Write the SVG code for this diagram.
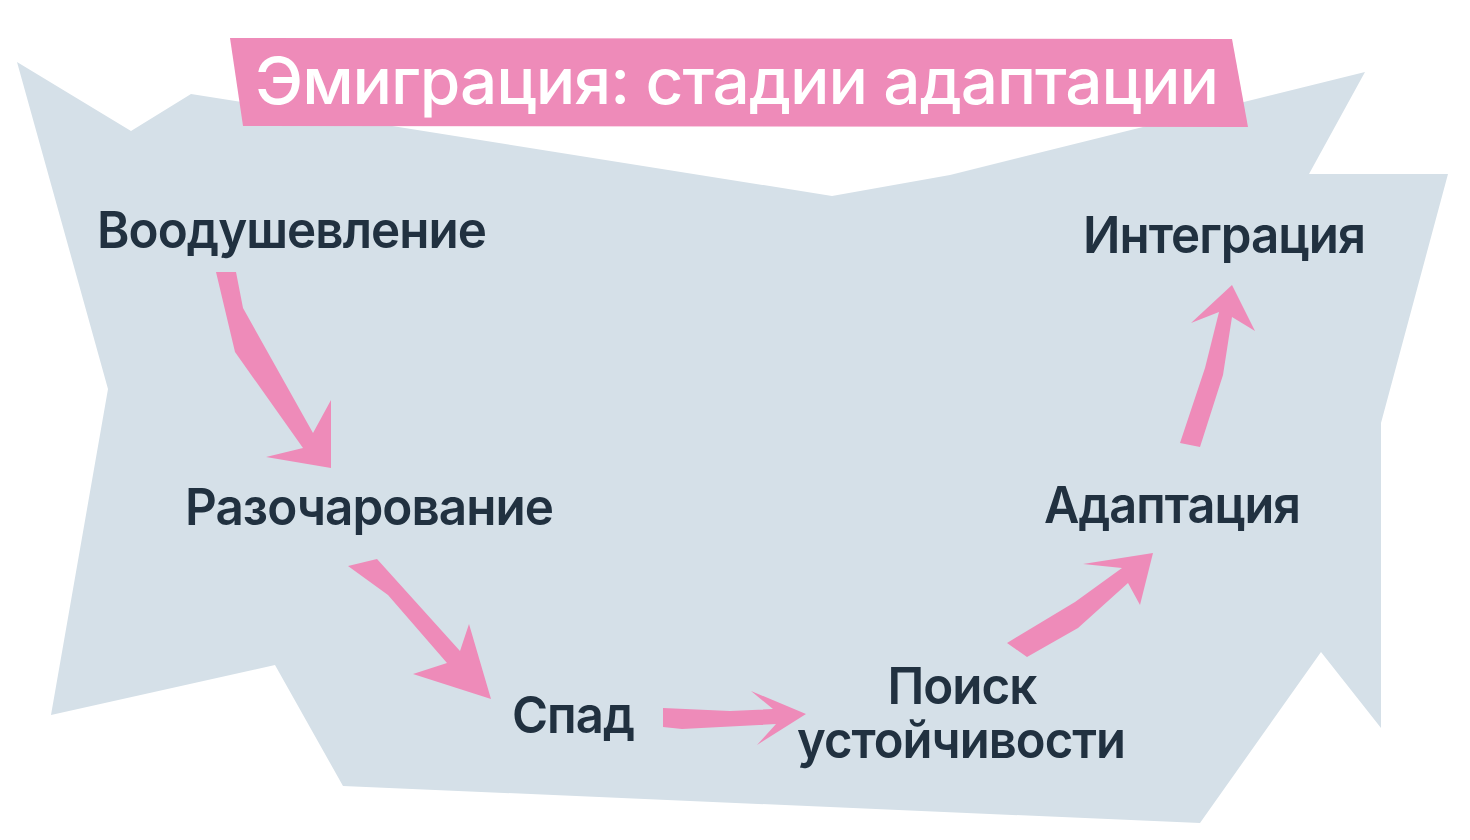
<svg xmlns="http://www.w3.org/2000/svg" width="1470" height="840" viewBox="0 0 1470 840">
<style>
.bg{fill:#d5e0e8}
.pink{fill:#ee8bb9}
.lbl{font-family:Inter,"Liberation Sans",sans-serif;font-weight:600;font-size:51px;fill:#213140;text-anchor:middle;letter-spacing:-1px}
.title{font-family:Inter,"Liberation Sans",sans-serif;font-weight:500;font-size:64px;fill:#ffffff;letter-spacing:-1px}
</style>
<rect width="1470" height="840" fill="#ffffff"/>
<polygon class="bg" points="17,62 131,131 191,94 832,196 950,175 1365,72 1309,174 1448,174 1381,423 1381,728 1321,652 1200,823 343,786 275,665 51,715 108,389"/>
<g id="title">
<polygon class="pink" points="230,38 1232,39 1248,127 243,126"/>
<text class="title" x="255" y="104" textLength="963" lengthAdjust="spacingAndGlyphs">Эмиграция: стадии адаптации</text>
</g>
<g id="connectors">
<polygon class="pink" points="216,272 236,272 243,308 313,433 331,400 331,468 266,457 303,448 235,352"/>
<polygon class="pink" points="348,566 377,559 460,651 469,624 491,699 413,674 447,663 388,595"/>
<polygon class="pink" points="663,708 730,711 773,709 751,691 806,714 757,745 776,724 682,729 663,727"/>
<polygon class="pink" points="1007,643 1075,602 1122,568 1083,564 1153,553 1140,605 1128,583 1078,628 1027,657"/>
<polygon class="pink" points="1180,443 1205,368 1219,312 1191,323 1232,285 1255,331 1232,317 1223,375 1200,447"/>
</g>
<g id="node-voodushevlenie"><text class="lbl" x="291.5" y="248" textLength="389" lengthAdjust="spacingAndGlyphs">Воодушевление</text></g>
<g id="node-razocharovanie"><text class="lbl" x="369" y="525" textLength="368" lengthAdjust="spacingAndGlyphs">Разочарование</text></g>
<g id="node-spad"><text class="lbl" x="573" y="733" textLength="122" lengthAdjust="spacingAndGlyphs">Спад</text></g>
<g id="node-poisk">
<text class="lbl" x="962" y="704" textLength="149" lengthAdjust="spacingAndGlyphs">Поиск</text>
<text class="lbl" x="961" y="758" textLength="328" lengthAdjust="spacingAndGlyphs">устойчивости</text>
</g>
<g id="node-adaptatsiya"><text class="lbl" x="1172" y="523" textLength="256" lengthAdjust="spacingAndGlyphs">Адаптация</text></g>
<g id="node-integratsiya"><text class="lbl" x="1224" y="253" textLength="282" lengthAdjust="spacingAndGlyphs">Интеграция</text></g>
</svg>
